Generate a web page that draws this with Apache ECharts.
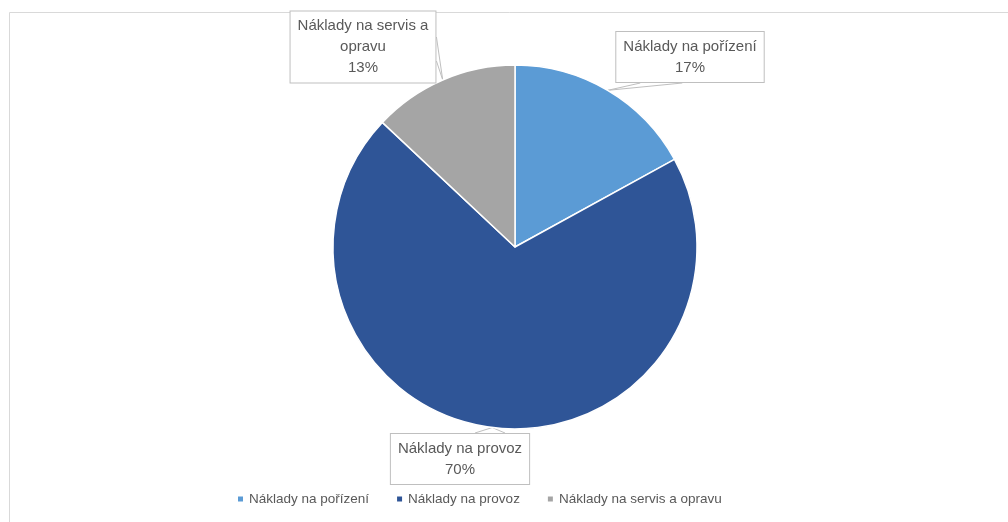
<!DOCTYPE html>
<html>
<head>
<meta charset="utf-8">
<script src="https://cdn.jsdelivr.net/npm/echarts@6/dist/echarts.min.js"></script>
<style>
  html, body { margin: 0; padding: 0; background: #ffffff; }
  #chart { width: 1008px; height: 522px; }
</style>
</head>
<body>
<div id="chart"></div>
<script>
// Cost structure: share of each cost group
const categories = ['Náklady na pořízení', 'Náklady na provoz', 'Náklady na servis a opravu'];
const values = [17, 70, 13];
const colors = ['#5B9BD5', '#2F5597', '#A5A5A5'];

const FONT = 'Liberation Sans, Arial, sans-serif';
const TEXT = '#595959';

// Callout box centres and wedge placement for each slice label
const boxes = [
  { cx: 690, cy: 57, side: 'bottom', base: [25, 67] },
  { cx: 460, cy: 459, side: 'top', base: [15, 45] },
  { cx: 363, cy: 47, side: 'right', base: [-10, 14] }
];

// Long names go on two lines, breaking before the last word
function wrapName(name) {
  if (name.length <= 20) return name;
  const k = name.lastIndexOf(' ');
  return name.slice(0, k) + '\n' + name.slice(k + 1);
}

const chart = echarts.init(document.getElementById('chart'), null, { renderer: 'canvas' });

chart.setOption({
  backgroundColor: '#ffffff',
  animation: false,
  graphic: [{
    type: 'rect',
    shape: { x: 9.5, y: 12.5, width: 1100, height: 600 },
    style: { fill: 'none', stroke: '#d9d9d9', lineWidth: 1 },
    z: 0
  }],
  legend: {
    data: categories,
    left: 231,
    top: 487,
    icon: 'rect',
    itemWidth: 7,
    itemHeight: 7,
    itemGap: 26,
    textStyle: { color: TEXT, fontFamily: FONT, fontSize: 13.5 }
  },
  series: [{
    type: 'pie',
    center: [515, 247],
    radius: 182,
    startAngle: 90,
    clockwise: true,
    data: categories.map((name, i) => ({
      name,
      value: values[i],
      itemStyle: { color: colors[i] }
    })),
    itemStyle: { borderColor: '#ffffff', borderWidth: 1.5 },
    label: {
      show: true,
      position: 'outside',
      formatter: p => wrapName(p.name) + '\n' + Math.round(p.percent) + '%',
      color: TEXT,
      fontFamily: FONT,
      fontSize: 15,
      lineHeight: 21,
      align: 'center',
      backgroundColor: '#ffffff',
      borderColor: '#bfbfbf',
      borderWidth: 1,
      padding: [4, 7, 4, 7]
    },
    labelLine: {
      show: true,
      length: 10,
      length2: 10,
      lineStyle: { color: '#bfbfbf', width: 1 }
    },
    labelLayout: function (params) {
      const b = boxes[params.dataIndex];
      const r = params.labelRect;
      const tip = params.labelLinePoints ? params.labelLinePoints[0] : [b.cx, b.cy];
      const hw = r.width / 2, hh = r.height / 2;
      let p1, p2;
      if (b.side === 'bottom') {
        p1 = [b.cx - hw + b.base[0], b.cy + hh];
        p2 = [b.cx - hw + b.base[1], b.cy + hh];
      } else if (b.side === 'top') {
        p1 = [b.cx + b.base[0], b.cy - hh];
        p2 = [b.cx + b.base[1], b.cy - hh];
      } else {
        p1 = [b.cx + hw, b.cy + b.base[0]];
        p2 = [b.cx + hw, b.cy + b.base[1]];
      }
      return {
        x: b.cx,
        y: b.cy,
        align: 'center',
        verticalAlign: 'middle',
        labelLinePoints: [p1, tip, p2]
      };
    }
  }]
});
</script>
</body>
</html>
